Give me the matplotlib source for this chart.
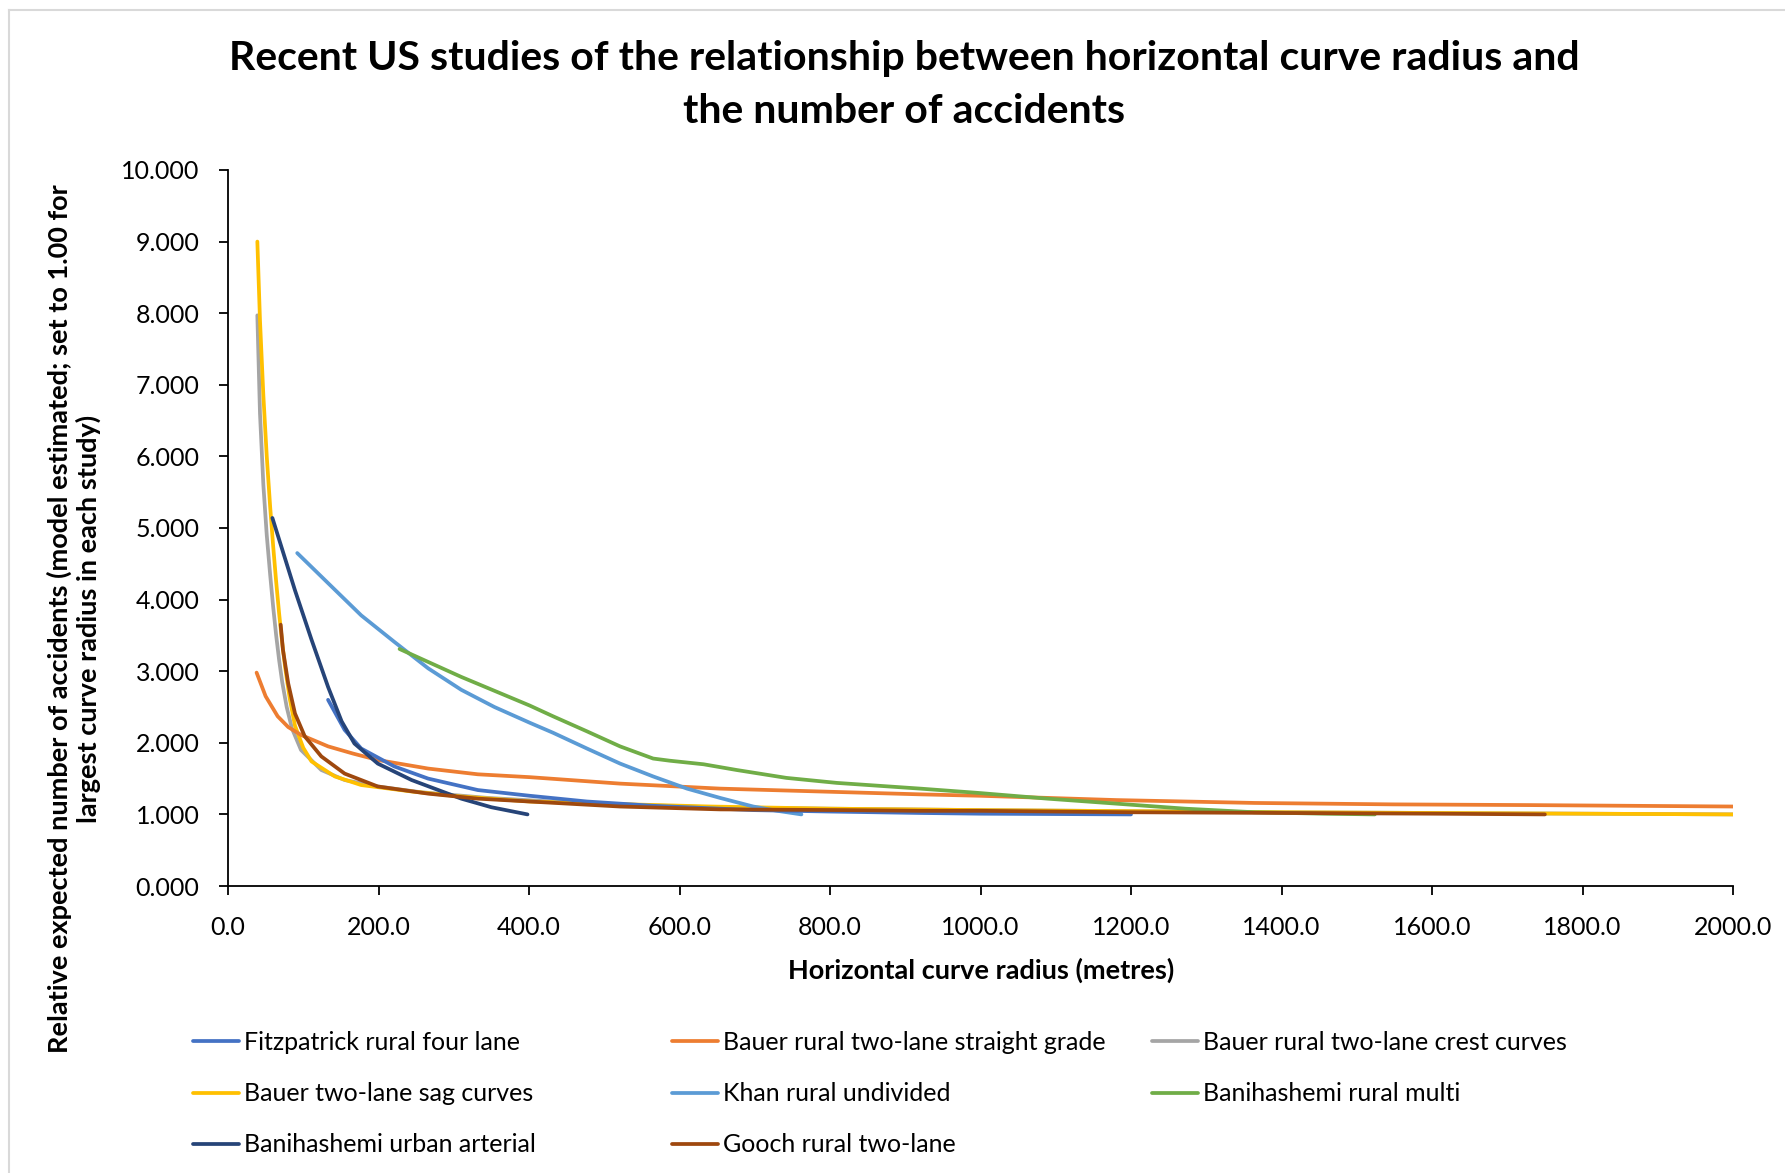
import matplotlib
matplotlib.use("Agg")
import matplotlib.pyplot as plt
from matplotlib.lines import Line2D

plt.rcParams['font.family'] = ['Lato', 'DejaVu Sans']

# ---- data ----
fitz_x = [133, 155, 177, 221, 266, 332, 401, 477, 565, 698, 800, 920, 1000, 1100, 1200]
fitz_y = [2.60, 2.18, 1.92, 1.67, 1.50, 1.34, 1.26, 1.18, 1.12, 1.06, 1.04, 1.02, 1.01, 1.005, 1.00]

bauer_sg_x = [38, 50, 66, 80, 97, 133, 166, 199, 266, 332, 401, 521, 654, 787, 920, 1000, 1181, 1364, 1548, 1731, 2000]
bauer_sg_y = [2.98, 2.65, 2.37, 2.22, 2.11, 1.95, 1.85, 1.76, 1.64, 1.56, 1.52, 1.43, 1.36, 1.32, 1.28, 1.26, 1.20, 1.16, 1.14, 1.13, 1.11]

bauer_crest_x = [39, 42.5, 47, 51.5, 56, 60, 64, 68, 72, 78, 85, 97, 124, 155, 199, 256, 345, 463, 641, 800, 1000, 1400, 2000]
bauer_crest_y = [7.97, 6.60, 5.60, 4.90, 4.35, 3.90, 3.50, 3.15, 2.85, 2.50, 2.20, 1.90, 1.62, 1.48, 1.39, 1.31, 1.23, 1.16, 1.10, 1.08, 1.06, 1.03, 1.00]

bauer_sag_x = [39, 42.5, 47, 51.5, 56, 60, 64, 68, 72, 76, 82, 89, 100, 111, 142, 177, 244, 310, 401, 463, 641, 800, 1000, 1400, 2000]
bauer_sag_y = [9.00, 7.90, 6.85, 6.00, 5.30, 4.75, 4.25, 3.80, 3.40, 3.05, 2.62, 2.24, 1.93, 1.74, 1.53, 1.41, 1.32, 1.25, 1.18, 1.16, 1.11, 1.08, 1.06, 1.03, 1.00]

khan_x = [92, 133, 177, 221, 266, 310, 354, 401, 432, 477, 521, 565, 610, 654, 698, 730, 762]
khan_y = [4.65, 4.23, 3.78, 3.41, 3.04, 2.74, 2.50, 2.28, 2.14, 1.92, 1.71, 1.53, 1.36, 1.23, 1.11, 1.05, 1.00]

bani_multi_x = [228, 310, 401, 432, 477, 521, 565, 587, 632, 676, 742, 809, 920, 997, 1089, 1181, 1272, 1364, 1456, 1524]
bani_multi_y = [3.31, 2.92, 2.52, 2.37, 2.16, 1.95, 1.78, 1.75, 1.70, 1.62, 1.51, 1.44, 1.36, 1.30, 1.22, 1.15, 1.08, 1.03, 1.01, 1.00]

bani_urban_x = [59, 89, 111, 133, 151, 168, 199, 244, 310, 350, 398]
bani_urban_y = [5.14, 4.13, 3.44, 2.78, 2.30, 1.99, 1.71, 1.48, 1.22, 1.10, 1.00]

gooch_x = [70, 73, 80, 89, 102, 124, 155, 199, 266, 332, 401, 521, 654, 819, 920, 1000, 1200, 1400, 1600, 1750]
gooch_y = [3.65, 3.30, 2.83, 2.41, 2.09, 1.81, 1.57, 1.39, 1.29, 1.22, 1.18, 1.11, 1.07, 1.06, 1.05, 1.05, 1.03, 1.02, 1.01, 1.00]

series_names = ["Fitzpatrick rural four lane", "Bauer rural two-lane straight grade",
                "Bauer rural two-lane crest curves", "Bauer two-lane sag curves",
                "Khan rural undivided", "Banihashemi rural multi",
                "Banihashemi urban arterial", "Gooch rural two-lane"]
series_x = [fitz_x, bauer_sg_x, bauer_crest_x, bauer_sag_x, khan_x, bani_multi_x, bani_urban_x, gooch_x]
series_y = [fitz_y, bauer_sg_y, bauer_crest_y, bauer_sag_y, khan_y, bani_multi_y, bani_urban_y, gooch_y]
colors = ["#4472C4", "#ED7D31", "#A5A5A5", "#FFC000", "#5B9BD5", "#70AD47", "#264478", "#9E480E"]

x_ticks = [0, 200, 400, 600, 800, 1000, 1200, 1400, 1600, 1800, 2000]
y_ticks = [0, 1, 2, 3, 4, 5, 6, 7, 8, 9, 10]

title = "Recent US studies of the relationship between horizontal curve radius and\nthe number of accidents"
xlabel = "Horizontal curve radius (metres)"
ylabel = "Relative expected number of accidents (model estimated; set to 1.00 for\nlargest curve radius in each study)"

# ---- figure ----
W, H = 1785, 1173
fig = plt.figure(figsize=(W / 100, H / 100), dpi=100)
ax = fig.add_axes([228 / W, 1 - 886 / H, (1733 - 228) / W, (886 - 170) / H])

# chart-area border (left and top visible)
fig.add_artist(Line2D([9 / W, 9 / W], [0, 1 - 10 / H], color="#D9D9D9", lw=1.5, transform=fig.transFigure))
fig.add_artist(Line2D([9 / W, 1], [1 - 10 / H, 1 - 10 / H], color="#D9D9D9", lw=1.5, transform=fig.transFigure))

# draw order: put gray under yellow, gooch on top of sag
order = [2, 3, 1, 4, 5, 0, 6, 7]
handles = {}
for i in order:
    ln, = ax.plot(series_x[i], series_y[i], color=colors[i], lw=2.7,
                  solid_capstyle="round", solid_joinstyle="round", label=series_names[i])
    handles[i] = ln

ax.set_xlim(0, 2000)
ax.set_ylim(0, 10)
ax.set_xticks(x_ticks)
ax.set_yticks(y_ticks)
ax.set_xticklabels([f"{v:.1f}" for v in x_ticks])
ax.set_yticklabels([f"{v:.3f}" for v in y_ticks])
for s in ["top", "right"]:
    ax.spines[s].set_visible(False)
for s in ["left", "bottom"]:
    ax.spines[s].set_color("black")
    ax.spines[s].set_linewidth(1.3)
ax.tick_params(axis="both", direction="out", length=6.5, width=1.3, colors="black", labelsize=18)
ax.tick_params(axis="y", pad=14)
ax.tick_params(axis="x", pad=15)

fig.text(981 / W, 1 - 970 / H, xlabel, ha="center", va="center", fontsize=19.5, fontweight="bold")
fig.text(74 / W, 1 - 619 / H, ylabel, rotation=90, ha="center", va="center",
         fontsize=19.5, fontweight="bold", multialignment="center", linespacing=1.2)

fig.text(904 / W, 1 - 85 / H, title, ha="center", va="center", fontsize=29.5,
         fontweight="bold", linespacing=1.56)

# legend: three fixed-width columns, filled row by row
legend_cols = [[0, 3, 6], [1, 4, 7], [2, 5]]
col_x = [193, 672, 1152]
for cx, idxs in zip(col_x, legend_cols):
    fig.legend([handles[i] for i in idxs], [series_names[i] for i in idxs],
               loc="upper left", bbox_to_anchor=(cx / W, 1 - 1031 / H), ncol=1,
               frameon=False, fontsize=18, handlelength=1.85, handletextpad=0.2,
               labelspacing=1.13, borderpad=0, borderaxespad=0)

fig.savefig("out.png", dpi=100)
